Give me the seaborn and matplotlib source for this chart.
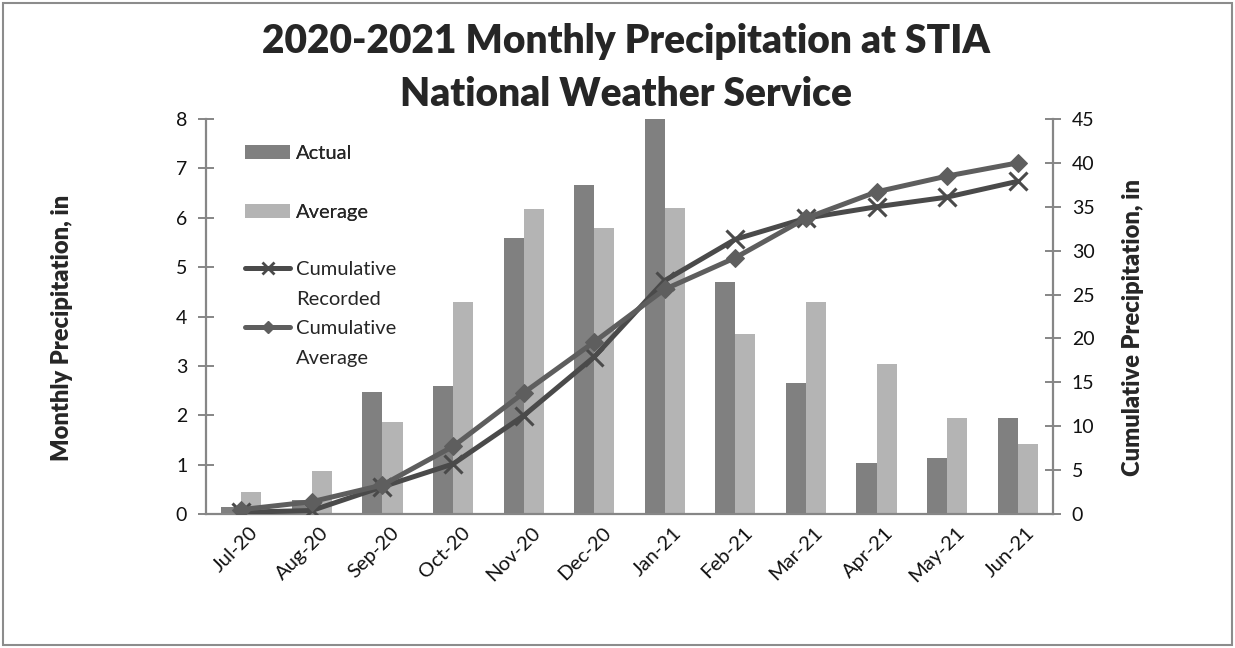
import matplotlib
matplotlib.use("Agg")
import matplotlib.pyplot as plt
import matplotlib.transforms as mtrans
import seaborn as sns
import numpy as np
import pandas as pd
from matplotlib.lines import Line2D
from matplotlib.patches import Patch, Rectangle

# ---- data ----
months = ["Jul-20", "Aug-20", "Sep-20", "Oct-20", "Nov-20", "Dec-20",
          "Jan-21", "Feb-21", "Mar-21", "Apr-21", "May-21", "Jun-21"]
actual = [0.15, 0.29, 2.48, 2.60, 5.59, 6.66, 8.00, 4.70, 2.65, 1.04, 1.14, 1.95]
average = [0.44, 0.88, 1.87, 4.29, 6.17, 5.79, 6.19, 3.64, 4.29, 3.03, 1.95, 1.42]
cum_recorded = [0.2, 0.4, 3.1, 5.7, 11.2, 17.9, 26.6, 31.3, 33.7, 35.0, 36.1, 37.9]
cum_average = [0.5, 1.4, 3.3, 7.7, 13.8, 19.6, 25.6, 29.2, 33.7, 36.7, 38.5, 40.0]
left_ticks = [0, 1, 2, 3, 4, 5, 6, 7, 8]
right_ticks = [0, 5, 10, 15, 20, 25, 30, 35, 40, 45]

C_ACT = "#808080"
C_AVG = "#b4b4b4"
C_REC_LINE = "#4a4a4a"
C_AVG_LINE = "#5e5e5e"
C_AXIS = "#868686"

sns.set_theme(style="white")
plt.rcParams['font.family'] = ['Lato', 'DejaVu Sans']

df = pd.DataFrame({
    "Month": months * 2,
    "Value": actual + average,
    "Series": ["Actual"] * len(months) + ["Average"] * len(months),
})

W, H = 1235, 648
fig = plt.figure(figsize=(W / 100, H / 100), dpi=100)
L, R, T, B = 206, 1053, 119, 514
ax = fig.add_axes([L / W, 1 - B / H, (R - L) / W, (B - T) / H])

sns.barplot(data=df, x="Month", y="Value", hue="Series", order=months,
            palette={"Actual": C_ACT, "Average": C_AVG}, width=0.57, gap=0,
            saturation=1, linewidth=0, legend=False, ax=ax)
ax.set_xlim(-0.5, len(months) - 0.5)
ax.set_ylim(0, 8)
ax.set_yticks(left_ticks)
ax.set_xlabel("")
ax.set_ylabel("")

ax2 = ax.twinx()
x = np.arange(len(months))
sns.lineplot(x=x, y=cum_recorded, ax=ax2, color=C_REC_LINE, lw=3.6,
             marker="x", markersize=13, markeredgewidth=2.2,
             markeredgecolor=C_REC_LINE)
sns.lineplot(x=x, y=cum_average, ax=ax2, color=C_AVG_LINE, lw=3.6,
             marker="D", markersize=9, markeredgecolor=C_AVG_LINE,
             markerfacecolor=C_AVG_LINE)
ax2.set_ylim(0, 45)
ax2.set_yticks(right_ticks)
ax2.set_xlim(-0.5, len(months) - 0.5)

# spines
for s in ["top", "right"]:
    ax.spines[s].set_visible(False)
for s in ["top", "left", "bottom"]:
    ax2.spines[s].set_visible(False)
for a, s in [(ax, "left"), (ax, "bottom"), (ax2, "right")]:
    a.spines[s].set_color(C_AXIS)
    a.spines[s].set_linewidth(1.6)

# ticks
ax.tick_params(axis="y", direction="inout", length=11, width=1.4,
               color=C_AXIS, labelsize=14, pad=8, labelcolor="#111111")
ax2.tick_params(axis="y", direction="inout", length=11, width=1.4,
                color=C_AXIS, labelsize=14, pad=8, labelcolor="#111111")
ax.set_xticks(x)
ax.set_xticks(np.arange(-0.5, len(months), 1), minor=True)
ax.tick_params(axis="x", which="major", length=0, pad=10)
ax.tick_params(axis="x", which="minor", direction="out", length=8,
               width=1.4, color=C_AXIS)
ax.set_xticklabels(months, rotation=45, ha="right", va="center",
                   rotation_mode="anchor", fontsize=14.5, color="#111111")
offset = mtrans.ScaledTranslation(14 / 100, -2 / 100, fig.dpi_scale_trans)
for lab in ax.get_xticklabels():
    lab.set_transform(lab.get_transform() + offset)

# titles and axis labels
fig.text(626 / W, 1 - 42 / H, "2020-2021 Monthly Precipitation at STIA",
         ha="center", va="center", fontsize=28, fontweight="heavy")
fig.text(626 / W, 1 - 94 / H, "National Weather Service",
         ha="center", va="center", fontsize=28, fontweight="heavy")
fig.text(62 / W, 1 - 328 / H, "Monthly Precipitation, in", rotation=90,
         ha="center", va="center", fontsize=17, fontweight="heavy")
fig.text(1133 / W, 1 - 328 / H, "Cumulative Precipitation, in", rotation=90,
         ha="center", va="center", fontsize=17, fontweight="heavy")

# legends
h1 = [Patch(facecolor=C_ACT, edgecolor="none"), Patch(facecolor=C_AVG, edgecolor="none")]
leg1 = ax.legend(h1, ["Actual", "Average"], loc="upper left",
                 bbox_to_anchor=(245 / W, 1 - 145 / H), bbox_transform=fig.transFigure,
                 frameon=False, fontsize=14.5, handlelength=2.25, handleheight=0.65,
                 handletextpad=0.3, labelspacing=2.1, borderpad=0, borderaxespad=0)
ax.add_artist(leg1)
blank = Line2D([], [], lw=0, alpha=0)
h2 = [Line2D([], [], color=C_REC_LINE, lw=3.6, marker="x", markersize=9, markeredgewidth=2),
      blank,
      Line2D([], [], color=C_AVG_LINE, lw=3.6, marker="D", markersize=6.5),
      blank]
leg2 = ax2.legend(h2, ["Cumulative", "Recorded", "Cumulative", "Average"], loc="upper left",
                  bbox_to_anchor=(245 / W, 1 - 261 / H), bbox_transform=fig.transFigure,
                  frameon=False, fontsize=14.5, handlelength=2.25,
                  handletextpad=0.3, labelspacing=0.62, borderpad=0, borderaxespad=0)

fig.patches.append(Rectangle((3 / W, 3 / H), 1 - 6 / W, 1 - 6 / H,
                             transform=fig.transFigure, fill=False,
                             edgecolor="#8c8c8c", lw=1.5))

fig.savefig("out.png", dpi=100)
